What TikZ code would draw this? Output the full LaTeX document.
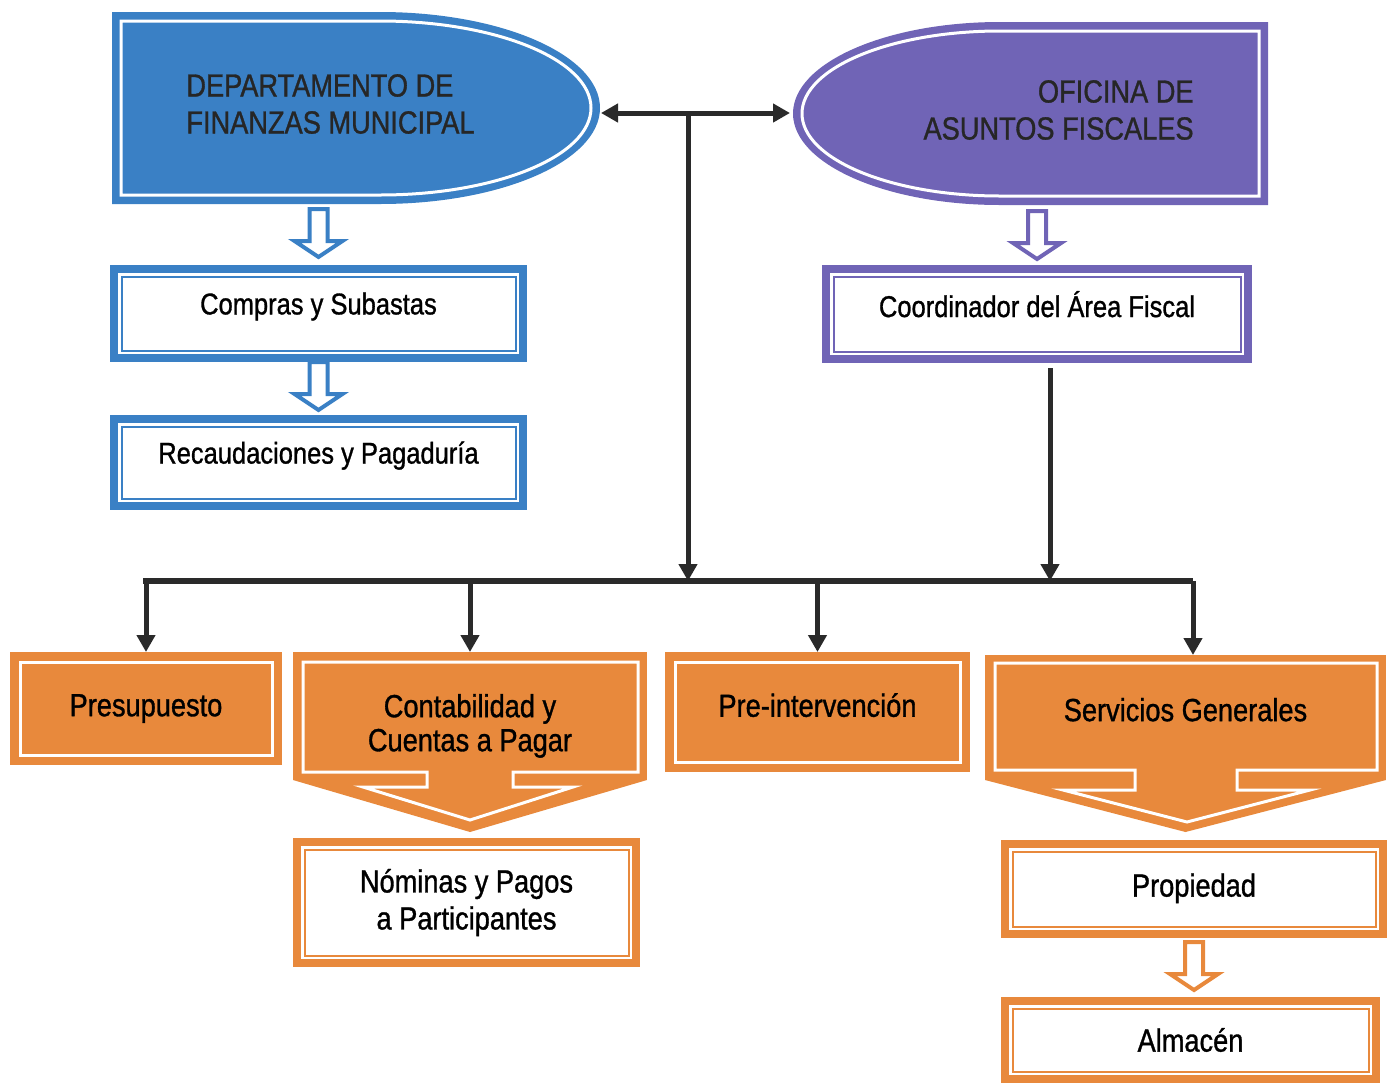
\documentclass[tikz,border=0pt]{standalone}
\usepackage{fontspec}
\setmainfont{Liberation Sans}[FakeStretch=0.85, FakeBold=1]
\usetikzlibrary{positioning,arrows.meta}
\definecolor{finblue}{HTML}{3A80C5}
\definecolor{fispurple}{HTML}{7064B6}
\definecolor{orng}{HTML}{E8893C}
\definecolor{linegray}{HTML}{2A2A2A}
\tikzset{
  bigtxt/.style={font=\fontsize{16}{18.5}\selectfont, text=black!85, inner sep=0pt},
  wbox/.style  ={rectangle, fill=white, align=center, inner sep=0pt, outer sep=0pt,
                 font=\fontsize{16}{18.5}\selectfont,
                 path picture={
                   \draw[draw=#1, line width=4pt]
                     ([shift={(2pt,-2pt)}]path picture bounding box.north west) rectangle
                     ([shift={(-2pt,2pt)}]path picture bounding box.south east);
                   \draw[draw=#1, line width=1pt]
                     ([shift={(5.75pt,-5.75pt)}]path picture bounding box.north west) rectangle
                     ([shift={(-5.75pt,5.75pt)}]path picture bounding box.south east);}},
  topbox/.style={font=\fontsize{15}{17}\selectfont, text depth=10pt},
  obox/.style  ={rectangle, fill=orng, align=center, inner sep=0pt, outer sep=0pt,
                 font=\fontsize{16}{17}\selectfont,
                 path picture={
                   \draw[white, line width=1.5pt]
                     ([shift={(5pt,-5pt)}]path picture bounding box.north west) rectangle
                     ([shift={(-5pt,5pt)}]path picture bounding box.south east);}},
  orect/.style ={rectangle, fill=orng, align=center, inner sep=0pt, outer sep=0pt,
                 font=\fontsize{16}{17}\selectfont},
  conn/.style  ={draw=linegray, line width=2.5pt, >={Triangle[length=8.5pt,width=9pt]}},
  busline/.style={draw=linegray, line width=3pt},
  pics/hollowdown/.style={code={
    \draw[draw=#1, line width=2pt, fill=white, line join=miter]
      (-9,-48) -- (9,-48) -- (9,-16) -- (24,-16) -- (0,0) -- (-24,-16) -- (-9,-16) -- cycle;}},
}

\begin{document}
\begin{tikzpicture}[x=0.5pt, y=-0.5pt]
  \useasboundingbox (0,0) rectangle (1388,1083);

  % top shapes
  \fill[finblue] (112,12) -- (380,12) arc[start angle=-90, end angle=90, x radius=220, y radius=96]
    -- (112,204) -- cycle;
  \draw[white, line width=1.5pt] (121,21) -- (380,21)
    arc[start angle=-90, end angle=90, x radius=211, y radius=87] -- (121,195) -- cycle;
  \fill[fispurple] (1268,22) -- (1000,22) arc[start angle=-90, end angle=-270, x radius=207, y radius=91.5]
    -- (1268,205) -- cycle;
  \draw[white, line width=1.5pt] (1259,31) -- (1000,31)
    arc[start angle=-90, end angle=-270, x radius=198, y radius=82.5] -- (1259,196) -- cycle;
  \node[bigtxt, anchor=west, align=left] (dfm) at (186,104) {DEPARTAMENTO DE\\FINANZAS MUNICIPAL};
  \node[bigtxt, anchor=east, align=right] (oaf) at (1194,110) {OFICINA DE\\ASUNTOS FISCALES};
  \coordinate (dfmtip) at (601,113);
  \coordinate (oaftip) at (790,113);

  % blue and purple branches
  \node[wbox=finblue, topbox, minimum width=208.5pt, minimum height=48.5pt]
    (comp) at (318.5,313.5) {Compras y Subastas};
  \node[wbox=finblue, topbox, minimum width=208.5pt, minimum height=47.5pt,
    below=26.5pt of comp] (reca) {Recaudaciones y Pagaduría};
  \node[wbox=fispurple, topbox, minimum width=215pt, minimum height=49pt]
    (cafs) at (1037,314) {Coordinador del Área Fiscal};
  \pic at ([yshift=4pt]comp.north) {hollowdown=finblue};
  \pic at ([yshift=2.5pt]reca.north) {hollowdown=finblue};
  \pic at ([yshift=3pt]cafs.north) {hollowdown=fispurple};

  % orange row
  \node[obox, minimum width=136pt, minimum height=56.5pt] (pres) at (146,708.5) {Presupuesto};
  \node[orect, minimum width=177pt, minimum height=64pt, text height=38.5pt]
    (conta) at (470,716) {Contabilidad y\\Cuentas a Pagar};
  \node[obox, minimum width=152.5pt, minimum height=60pt, text depth=7pt]
    (preint) at (817.5,712) {Pre-intervención};
  \node[orect, minimum width=200.5pt, minimum height=62.5pt, text depth=8pt]
    (serv) at (1185.5,717.5) {Servicios Generales};
  \fill[orng] (conta.south west) -- (conta.south east) -- ([yshift=-26pt]conta.south) -- cycle;
  \draw[white, line width=1.5pt] (303,662) -- (638,662) -- (638,772) -- (513,772) -- (513,787)
    -- (573,787) -- (470,820) -- (363,787) -- (427,787) -- (427,772) -- (303,772) -- cycle;
  \fill[orng] (serv.south west) -- (serv.south east) -- ([yshift=-26pt]serv.south) -- cycle;
  \draw[white, line width=1.5pt] (995,663) -- (1377,663) -- (1377,770) -- (1237,770) -- (1237,790)
    -- (1310,790) -- (1187,822) -- (1063,790) -- (1135,790) -- (1135,770) -- (995,770) -- cycle;

  \node[wbox=orng, minimum width=173.5pt, minimum height=64.5pt] (nomi) at (466.5,902.5) {Nóminas y Pagos\\a Participantes};
  \node[wbox=orng, minimum width=193pt, minimum height=49pt, text depth=4pt] (prop) at (1194,889) {Propiedad};
  \node[wbox=orng, minimum width=189.5pt, minimum height=43pt, below=29.5pt of prop.south west, anchor=north west]
    (alma) {Almacén};
  \pic at ([yshift=3.5pt]alma.north -| prop.south) {hollowdown=orng};

  % connectors
  \coordinate (jtop) at (688,113);
  \coordinate (busl) at (143,581);
  \coordinate (busr) at (1193,581);
  \coordinate (cafsout) at ([shift={(6.5pt,-2.5pt)}]cafs.south);
  \draw[conn, <->] (dfmtip) -- (oaftip);
  \draw[busline] (busl) -- (busr);
  \draw[conn, ->] (jtop) -- (jtop |- busl);
  \draw[conn, ->] (cafsout) -- (cafsout |- busl);
  \foreach \n in {pres,conta,preint}
    \draw[conn, ->] (\n.north |- busl) -- (\n.north);
  \draw[conn, ->] (busr) -- (busr |- serv.north);
\end{tikzpicture}
\end{document}
